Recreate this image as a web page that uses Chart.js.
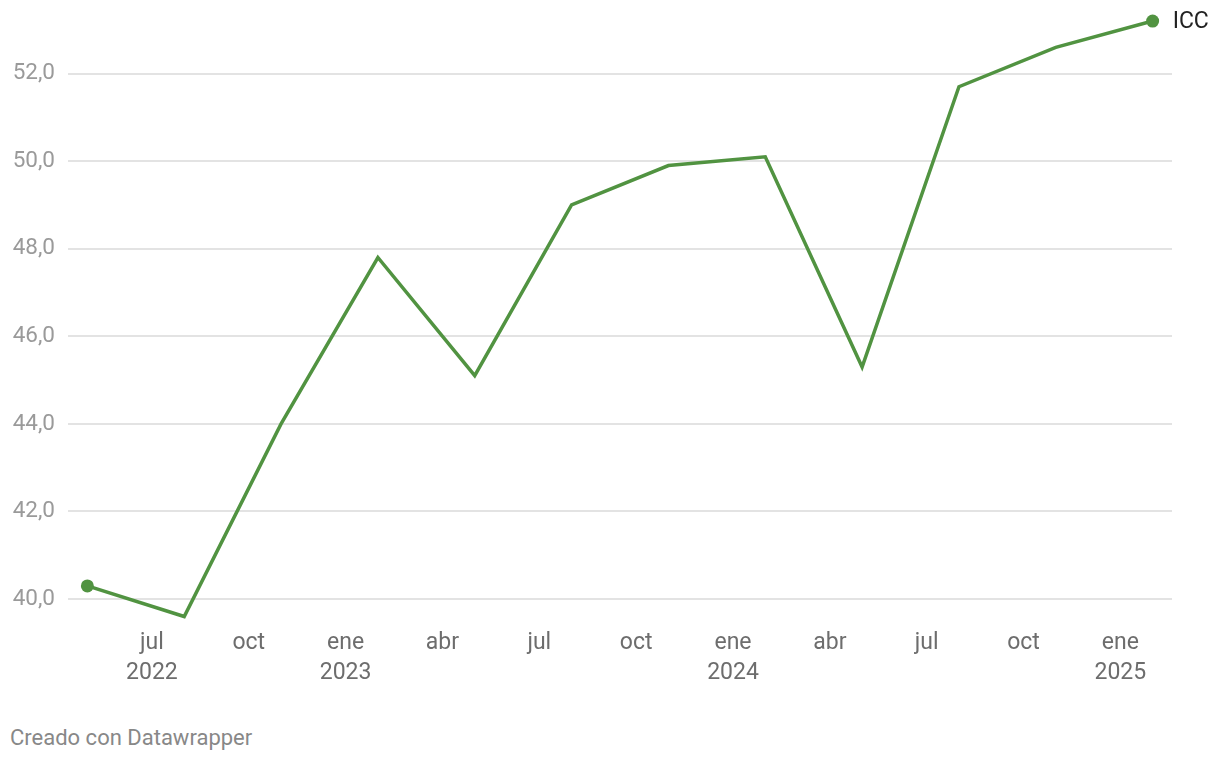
<!DOCTYPE html>
<html>
<head>
<meta charset="utf-8">
<script src="https://cdn.jsdelivr.net/npm/chart.js@4"></script>
<style>
  body { margin: 0; background: #fff; font-family: Roboto, sans-serif; }
  #wrap { position: absolute; left: 0; top: 0; width: 1220px; height: 700px; }
  #note { position: absolute; left: 10px; top: 725px; font-size: 22px; color: #888; }
</style>
</head>
<body>
<div id="wrap"><canvas id="iccChart"></canvas></div>
<div id="note">Creado con Datawrapper</div>
<script>
// months counted from ene 2022 = 0
const meses = [4, 7, 10, 13, 16, 19, 22, 25, 28, 31, 34, 37];
const icc = [40.3, 39.6, 44.0, 47.8, 45.1, 49.0, 49.9, 50.1, 45.3, 51.7, 52.6, 53.2];
const xTickMeses = [6, 9, 12, 15, 18, 21, 24, 27, 30, 33, 36];
const xTickLabels = [['jul', '2022'], 'oct', ['ene', '2023'], 'abr', 'jul', 'oct', ['ene', '2024'], 'abr', 'jul', 'oct', ['ene', '2025']];
const yTicks = [40, 42, 44, 46, 48, 50, 52];
const serieNombre = 'ICC';

const verde = '#519341';

// etiqueta ICC al final de la linea
const etiquetaFinal = {
  id: 'etiquetaFinal',
  afterDatasetsDraw(chart) {
    const meta = chart.getDatasetMeta(0);
    const last = meta.data[meta.data.length - 1];
    const ctx = chart.ctx;
    ctx.save();
    ctx.font = '23px Roboto';
    ctx.fillStyle = '#222';
    ctx.textBaseline = 'middle';
    ctx.fillText(serieNombre, last.x + 20, last.y + 1);
    ctx.restore();
  }
};

const ctx = document.getElementById('iccChart').getContext('2d');
const iccChart = new Chart(ctx, {
  type: 'line',
  data: {
    datasets: [{
      label: serieNombre,
      data: meses.map((m, i) => ({ x: m, y: icc[i] })),
      borderColor: verde,
      backgroundColor: verde,
      borderWidth: 3.5,
      tension: 0,
      clip: false,
      pointRadius: c => (c.dataIndex === 0 || c.dataIndex === icc.length - 1) ? 6.5 : 0,
      pointHoverRadius: 6.5,
      pointBorderWidth: 0
    }]
  },
  options: {
    responsive: true,
    maintainAspectRatio: false,
    animation: false,
    layout: { padding: { top: 12.3, right: 48, left: 0, bottom: 0 } },
    scales: {
      x: {
        type: 'linear',
        min: 3.4,
        max: 37.6,
        afterBuildTicks: s => { s.ticks = xTickMeses.map(v => ({ value: v })); },
        afterFit: s => { s.height = 700 - 625.3; s.paddingLeft = 0; s.paddingRight = 0; },
        ticks: {
          color: '#6d6d6d',
          font: { family: 'Roboto', size: 23, lineHeight: 1.3 },
          padding: -5,
          maxRotation: 0,
          autoSkip: false,
          callback: (v) => xTickLabels[xTickMeses.indexOf(v)]
        },
        grid: { display: false },
        border: { display: false }
      },
      y: {
        min: 39.4,
        max: 53.4,
        afterBuildTicks: s => { s.ticks = yTicks.map(v => ({ value: v })); },
        afterFit: s => { s.width = 68; s.paddingTop = 0; s.paddingBottom = 0; },
        ticks: {
          color: '#9a9a9a',
          font: { family: 'Roboto', size: 22.5 },
          padding: 13,
          callback: v => v.toFixed(1).replace('.', ',')
        },
        grid: { color: '#e3e3e3', lineWidth: 2, drawTicks: false },
        border: { display: false }
      }
    },
    plugins: {
      legend: { display: false },
      tooltip: { enabled: false }
    }
  },
  plugins: [etiquetaFinal]
});
</script>
</body>
</html>
